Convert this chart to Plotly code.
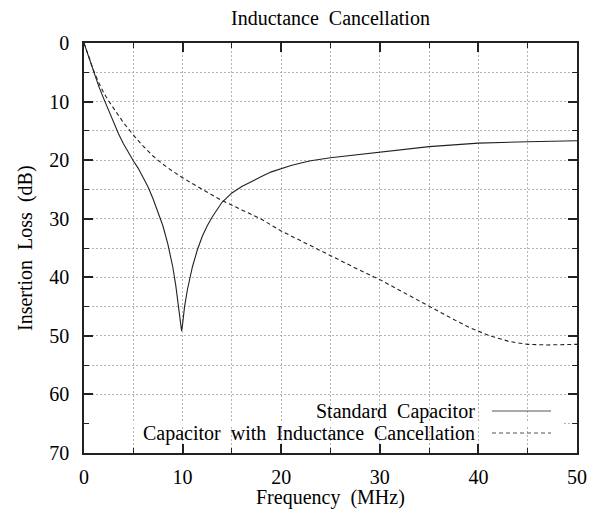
import plotly.graph_objects as go

# Standard capacitor (frequency MHz, insertion loss dB)
std_freq = [0, 0.5, 1, 1.5, 2, 2.5, 3, 3.5, 4, 4.5, 5, 5.5, 6, 6.5, 7, 7.5, 8, 8.5, 9, 9.3, 9.6,
            9.8, 9.9, 10.0, 10.2, 10.5, 10.75, 11, 11.5, 12, 12.5, 13, 14, 15, 16, 17, 18, 19,
            20, 21, 22, 23, 25, 27.5, 30, 32.5, 35, 37.5, 40, 45, 50]
std_loss = [0, 2.6, 5.1, 7.4, 9.5, 11.6, 13.6, 15.5, 17.2, 18.7, 20.1, 21.4, 22.9, 24.6, 26.6,
            28.8, 31.2, 34.3, 38.2, 41.3, 45.0, 47.8, 49.2, 48.0, 45.0, 42.0, 39.9, 38.2, 35.3,
            33.0, 31.2, 29.7, 27.2, 25.6, 24.5, 23.6, 22.8, 22.0, 21.4, 20.9, 20.5, 20.1, 19.6,
            19.1, 18.6, 18.1, 17.7, 17.4, 17.1, 16.85, 16.7]

# Capacitor with inductance cancellation
ic_freq = [0, 0.5, 1, 1.5, 2, 2.5, 3, 4, 5, 6, 7, 8, 9, 10, 12, 14, 16, 18, 20, 22, 25, 27.5,
           30, 32.5, 35, 37.5, 39, 40, 41, 42, 43, 44, 45, 47, 50]
ic_loss = [0, 2.6, 4.8, 6.8, 8.5, 9.9, 11.2, 13.6, 15.7, 17.6, 19.3, 20.7, 21.9, 23.0, 25.0,
           26.9, 28.5, 30.1, 32.1, 33.8, 36.3, 38.4, 40.4, 42.7, 45.0, 47.2, 48.5, 49.2, 49.9,
           50.4, 50.9, 51.2, 51.45, 51.55, 51.45]

x_ticks = [0, 10, 20, 30, 40, 50]
y_ticks = [0, 10, 20, 30, 40, 50, 60, 70]
minor_ticks_x = [5, 15, 25, 35, 45]
minor_ticks_y = [5, 15, 25, 35, 45, 55, 65]

SP = "\u2002"
series_names = ["Standard" + SP + "Capacitor",
                "Capacitor" + SP + "with" + SP + "Inductance" + SP + "Cancellation"]
x_title = "Frequency" + SP + "(MHz)"
y_title = "Insertion" + SP + "Loss" + SP + "(dB)"
chart_title = "Inductance" + SP + "Cancellation"

FONT = "Liberation Serif, Times New Roman, serif"
GRID = "#b4b4b4"
FS = 20

fig = go.Figure()
fig.add_trace(go.Scatter(x=std_freq, y=std_loss, mode="lines", name="Standard Capacitor",
                         line=dict(color="#222222", width=1.1), showlegend=False))
fig.add_trace(go.Scatter(x=ic_freq, y=ic_loss, mode="lines",
                         name="Capacitor with Inductance Cancellation",
                         line=dict(color="#222222", width=1.1, dash="4px,3px"), showlegend=False))

axis_common = dict(
    showline=True, linecolor="#222222", linewidth=1.5, mirror="allticks",
    ticks="inside", ticklen=9, tickwidth=1.5, tickcolor="#222222",
    showgrid=True, gridcolor=GRID, griddash="2px,2px", gridwidth=1,
    zeroline=False, automargin=False,
    tickfont=dict(family=FONT, size=FS, color="#000000"),
)

fig.update_xaxes(range=[0, 50], tickvals=x_ticks, ticktext=[str(v) for v in x_ticks],
                 minor=dict(tickvals=minor_ticks_x, ticks="inside", ticklen=5, tickwidth=1.2,
                            tickcolor="#222222", showgrid=True, gridcolor=GRID,
                            griddash="2px,2px", gridwidth=1),
                 ticklabelstandoff=5,
                 **axis_common)
fig.update_yaxes(range=[70, 0], tickvals=y_ticks, ticktext=[str(v) for v in y_ticks],
                 minor=dict(tickvals=minor_ticks_y, ticks="inside", ticklen=5, tickwidth=1.2,
                            tickcolor="#222222", showgrid=True, gridcolor=GRID,
                            griddash="2px,2px", gridwidth=1),
                 ticklabelstandoff=9,
                 **axis_common)

# axis titles
fig.add_annotation(x=0.5, y=(453 - 497) / 410, xref="paper", yref="paper", text=x_title,
                   showarrow=False, xanchor="center", yanchor="middle",
                   font=dict(family=FONT, size=FS, color="#000"))
fig.add_annotation(x=(25 - 84) / 493, y=0.5, xref="paper", yref="paper", text=y_title,
                   showarrow=False, xanchor="center", yanchor="middle", textangle=-90,
                   font=dict(family=FONT, size=FS, color="#000"))

# key box: hides the horizontal grid line behind the key text
fig.add_shape(type="rect", xref="x", yref="y", x0=0.3, x1=48.6, y0=64.6, y1=65.4,
              fillcolor="white", line=dict(width=0), layer="between")

# key (gnuplot style: text right-aligned, sample line to the right)
key_rows = [(411, "solid"), (433, "4px,3px")]
for (ypix, dash), name in zip(key_rows, series_names):
    yp = (453 - ypix) / 410
    fig.add_annotation(x=(477 - 84) / 493, y=yp, xref="paper", yref="paper", text=name,
                       showarrow=False, xanchor="right", yanchor="middle",
                       font=dict(family=FONT, size=FS, color="#000"))
    fig.add_shape(type="line", xref="paper", yref="paper", x0=(492 - 84) / 493, x1=(551 - 84) / 493,
                  y0=yp, y1=yp, line=dict(color="#555555", width=1.1, dash=dash))

fig.update_layout(
    width=602, height=516,
    margin=dict(l=84, r=25, t=43, b=63),
    paper_bgcolor="white", plot_bgcolor="white",
    title=dict(text=chart_title, x=0.549, xanchor="center",
               y=1 - 18 / 516, yanchor="middle", yref="container",
               font=dict(family=FONT, size=FS, color="#000")),
    showlegend=False,
)

fig.write_html("out.html", config={"displayModeBar": False},
               post_script="document.body.style.margin='0';document.body.style.padding='0';")
